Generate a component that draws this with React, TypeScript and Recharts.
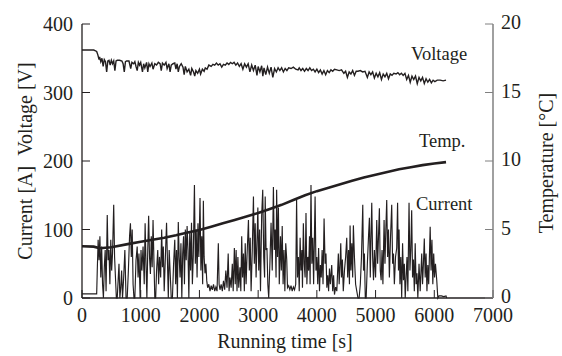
import React from 'react';
import { LineChart, Line, XAxis, YAxis } from 'recharts';

const xTicks = [0, 1000, 2000, 3000, 4000, 5000, 6000, 7000];
const leftTicks = [0, 100, 200, 300, 400];
const rightTicks = [0, 5, 10, 15, 20];

const currentPts: [number, number][] = [
  [0, 6], [250, 6], [260, 40], [275, 85], [290, 55], [305, 90], [320, 30], [335, 75], [350, 20], [365, 0], [380, 45], [395, 70], [410, 10], [430, 121], [445, 55], [460, 70], [475, 20], [490, 85], [505, 40], [520, 65], [540, 136], [555, 60], [570, 30], [585, 0], [600, 0], [615, 25], [630, 50], [645, 0], [660, 15], [675, 40], [690, 0], [710, 30], [730, 70], [750, 0], [770, 0], [790, 40], [810, 90], [825, 109], [840, 60], [855, 100], [870, 20], [885, 0], [900, 0], [920, 55], [940, 75], [955, 30], [970, 65], [990, 0], [1005, 70], [1020, 40], [1040, 75], [1060, 20], [1075, 109], [1090, 50], [1105, 0], [1120, 70], [1135, 120], [1150, 60], [1165, 35], [1180, 90], [1195, 45], [1210, 114], [1225, 55], [1240, 0], [1255, 0], [1270, 40], [1290, 70], [1305, 20], [1320, 60], [1340, 30], [1357, 100], [1370, 45], [1385, 75], [1400, 10], [1420, 60], [1440, 110], [1455, 55], [1470, 0], [1485, 70], [1500, 40], [1520, 0], [1540, 0], [1560, 50], [1580, 85], [1595, 20], [1610, 70], [1625, 0], [1640, 111], [1655, 60], [1670, 30], [1685, 80], [1700, 0], [1715, 65], [1730, 90], [1745, 20], [1760, 100], [1775, 55], [1790, 105], [1805, 70], [1820, 0], [1835, 95], [1850, 40], [1865, 110], [1880, 20], [1895, 60], [1915, 165], [1930, 50], [1945, 100], [1960, 30], [1975, 109], [1990, 60], [2010, 146], [2025, 40], [2040, 90], [2055, 20], [2067, 142], [2080, 60], [2095, 36], [2110, 50], [2125, 25], [2140, 15], [2160, 20], [2180, 10], [2200, 18], [2220, 12], [2240, 20], [2260, 10], [2280, 16], [2300, 10], [2322, 80], [2335, 20], [2350, 12], [2370, 20], [2390, 10], [2410, 25], [2430, 12], [2450, 40], [2470, 15], [2490, 65], [2505, 10], [2520, 30], [2540, 15], [2560, 50], [2575, 10], [2595, 73], [2610, 20], [2625, 70], [2640, 10], [2655, 60], [2670, 15], [2690, 45], [2705, 10], [2720, 90], [2735, 30], [2750, 65], [2765, 10], [2780, 80], [2795, 20], [2810, 60], [2835, 114], [2850, 40], [2865, 88], [2880, 10], [2900, 70], [2920, 148], [2935, 50], [2950, 109], [2965, 30], [2980, 80], [2995, 132], [3010, 40], [3025, 100], [3040, 10], [3060, 120], [3078, 158], [3095, 60], [3110, 30], [3120, 148], [3135, 70], [3150, 73], [3165, 20], [3180, 0], [3200, 50], [3220, 110], [3240, 40], [3260, 162], [3275, 70], [3290, 100], [3305, 30], [3315, 158], [3330, 60], [3345, 132], [3360, 20], [3380, 90], [3395, 40], [3410, 105], [3425, 20], [3440, 70], [3455, 10], [3470, 80], [3487, 56], [3500, 15], [3520, 18], [3540, 12], [3560, 18], [3580, 10], [3600, 16], [3620, 12], [3640, 20], [3655, 143], [3670, 30], [3685, 60], [3700, 10], [3715, 88], [3730, 40], [3745, 70], [3755, 15], [3770, 109], [3785, 50], [3800, 30], [3815, 124], [3830, 20], [3845, 60], [3860, 40], [3875, 90], [3885, 20], [3900, 165], [3915, 50], [3930, 88], [3945, 20], [3970, 148], [3985, 40], [4000, 60], [4015, 20], [4030, 73], [4045, 10], [4060, 48], [4075, 30], [4090, 70], [4105, 20], [4123, 116], [4140, 50], [4155, 65], [4170, 15], [4185, 33], [4200, 10], [4215, 43], [4230, 20], [4253, 48], [4270, 10], [4285, 33], [4300, 5], [4320, 16], [4340, 10], [4366, 65], [4380, 20], [4395, 50], [4407, 80], [4420, 30], [4435, 56], [4450, 10], [4470, 40], [4490, 60], [4509, 88], [4525, 30], [4540, 70], [4555, 20], [4566, 106], [4580, 40], [4595, 80], [4610, 30], [4622, 106], [4640, 60], [4660, 20], [4680, 10], [4700, 0], [4720, 0], [4740, 20], [4760, 60], [4782, 136], [4795, 40], [4810, 65], [4825, 0], [4840, 0], [4860, 50], [4880, 90], [4895, 117], [4910, 30], [4920, 80], [4935, 139], [4950, 60], [4965, 26], [4980, 70], [5000, 30], [5020, 114], [5035, 50], [5050, 90], [5065, 131], [5080, 40], [5095, 26], [5110, 70], [5125, 20], [5145, 114], [5160, 50], [5175, 100], [5190, 143], [5205, 60], [5220, 100], [5235, 30], [5255, 90], [5275, 136], [5290, 50], [5305, 65], [5320, 20], [5340, 60], [5360, 73], [5375, 139], [5390, 40], [5400, 100], [5415, 20], [5430, 60], [5445, 0], [5460, 80], [5475, 26], [5490, 50], [5505, 0], [5520, 30], [5535, 60], [5550, 10], [5570, 139], [5585, 40], [5600, 70], [5615, 128], [5630, 30], [5645, 56], [5660, 10], [5675, 80], [5690, 20], [5705, 36], [5720, 0], [5740, 50], [5760, 10], [5786, 65], [5800, 20], [5815, 50], [5830, 87], [5845, 30], [5860, 65], [5875, 10], [5890, 48], [5905, 20], [5930, 104], [5945, 40], [5960, 85], [5975, 20], [5990, 65], [6005, 30], [6020, 50], [6042, 26], [6060, 0], [6080, 3], [6120, 3], [6160, 2], [6200, 3], [6210, 0],
];

const voltagePts: [number, number][] = [
  [0, 362], [200, 362], [250, 360], [270, 355], [290, 348], [300, 352], [320, 345], [340, 350], [360, 338], [380, 348], [400, 345], [420, 330], [440, 346], [460, 347], [480, 340], [500, 347], [520, 342], [540, 346], [560, 332], [580, 346], [600, 347], [640, 347], [680, 346], [700, 342], [720, 330], [740, 345], [760, 346], [800, 346], [830, 335], [850, 344], [880, 342], [900, 345], [920, 338], [940, 332], [960, 344], [980, 340], [1000, 344], [1030, 330], [1050, 342], [1070, 336], [1100, 344], [1120, 330], [1140, 342], [1160, 338], [1190, 343], [1210, 334], [1240, 342], [1270, 340], [1300, 344], [1330, 342], [1350, 332], [1370, 343], [1400, 340], [1430, 344], [1450, 335], [1480, 342], [1500, 330], [1520, 340], [1550, 342], [1580, 343], [1600, 334], [1620, 342], [1640, 330], [1660, 338], [1690, 342], [1720, 337], [1740, 326], [1760, 338], [1790, 330], [1820, 334], [1850, 325], [1870, 335], [1900, 330], [1920, 324], [1940, 332], [1970, 328], [2000, 334], [2020, 327], [2050, 334], [2080, 331], [2100, 336], [2130, 334], [2160, 340], [2200, 338], [2230, 341], [2260, 340], [2290, 343], [2320, 340], [2350, 342], [2380, 337], [2410, 341], [2440, 340], [2470, 343], [2500, 341], [2530, 344], [2560, 342], [2590, 344], [2620, 340], [2650, 343], [2680, 338], [2710, 342], [2740, 334], [2770, 342], [2800, 337], [2830, 342], [2860, 330], [2890, 340], [2920, 332], [2950, 340], [2980, 325], [3000, 338], [3030, 330], [3060, 339], [3080, 324], [3100, 336], [3130, 326], [3160, 337], [3190, 328], [3220, 337], [3250, 322], [3280, 335], [3310, 330], [3340, 336], [3370, 332], [3400, 336], [3430, 330], [3460, 335], [3490, 332], [3520, 336], [3560, 335], [3600, 337], [3640, 334], [3680, 333], [3700, 336], [3730, 332], [3760, 335], [3790, 331], [3820, 335], [3850, 332], [3880, 336], [3910, 332], [3940, 334], [3970, 330], [4000, 334], [4030, 329], [4060, 333], [4090, 327], [4120, 332], [4150, 326], [4180, 332], [4210, 329], [4240, 333], [4270, 331], [4300, 334], [4340, 333], [4380, 332], [4420, 333], [4460, 328], [4490, 331], [4520, 322], [4550, 330], [4580, 327], [4610, 332], [4640, 325], [4670, 331], [4700, 331], [4740, 332], [4780, 330], [4820, 331], [4860, 322], [4890, 330], [4920, 326], [4950, 330], [4980, 321], [5010, 328], [5040, 323], [5070, 329], [5100, 319], [5130, 327], [5160, 323], [5190, 328], [5220, 320], [5250, 327], [5280, 325], [5310, 328], [5350, 327], [5380, 329], [5410, 326], [5440, 328], [5470, 325], [5500, 328], [5530, 319], [5560, 325], [5590, 315], [5620, 324], [5650, 319], [5680, 324], [5710, 313], [5740, 322], [5770, 317], [5800, 322], [5830, 313], [5860, 320], [5890, 315], [5920, 319], [5950, 314], [5980, 318], [6010, 316], [6050, 318], [6100, 318], [6150, 317], [6200, 318],
];

const tempPts: [number, number][] = [
  [0, 3.78], [200, 3.75], [300, 3.63], [500, 3.7], [800, 3.95], [1000, 4.1], [1200, 4.25], [1400, 4.4], [1600, 4.58], [1800, 4.78], [2000, 4.96], [2200, 5.2], [2400, 5.45], [2600, 5.7], [2800, 5.95], [3000, 6.2], [3200, 6.5], [3400, 6.8], [3600, 7.15], [3800, 7.5], [4000, 7.8], [4200, 8.05], [4400, 8.3], [4600, 8.55], [4800, 8.8], [5000, 9.0], [5200, 9.2], [5400, 9.4], [5600, 9.55], [5800, 9.7], [6000, 9.82], [6200, 9.92],
];

const toRows = (pts: [number, number][]) => pts.map(([t, v]) => ({ t, v }));
const currentData = toRows(currentPts);
const voltageData = toRows(voltagePts);
const tempData = toRows(tempPts);

const INK = '#231f20';
const FONT = '"Liberation Serif", "Times New Roman", serif';
const tickStyle = { fontSize: 20, fontFamily: FONT, fill: INK };

export default function App() {
  return (
    <div style={{ position: 'absolute', left: 0, top: 0, width: 562, height: 356, background: '#fff' }}>
      <LineChart width={562} height={356} margin={{ top: 24, right: 0, bottom: 0, left: 0 }}>
        <XAxis
          xAxisId="b"
          dataKey="t"
          type="number"
          domain={[0, 7000]}
          ticks={xTicks}
          interval={0}
          allowDataOverflow
          height={58}
          tickSize={-8}
          tickMargin={18}
          stroke={INK}
          axisLine={{ stroke: INK, strokeWidth: 1.3 }}
          tickLine={{ stroke: INK }}
          tick={tickStyle}
          label={{
            content: () => (
              <text x={285} y={348} textAnchor="middle" fontSize={20} fontFamily={FONT} fill={INK}>
                Running time [s]
              </text>
            ),
          }}
        />
        <XAxis
          xAxisId="t"
          orientation="top"
          dataKey="t"
          type="number"
          domain={[0, 7000]}
          ticks={xTicks}
          interval={0}
          height={0}
          tickSize={-8}
          tickFormatter={() => ''}
          axisLine={{ stroke: INK, strokeWidth: 1.3 }}
          tickLine={{ stroke: INK }}
        />
        <YAxis
          yAxisId="l"
          type="number"
          domain={[0, 400]}
          ticks={leftTicks}
          interval={0}
          width={82}
          tickSize={-8}
          tickMargin={17}
          axisLine={{ stroke: INK, strokeWidth: 1.3 }}
          tickLine={{ stroke: INK }}
          tick={tickStyle}
          label={{
            content: () => (
              <text
                x={25}
                y={161}
                transform="rotate(-90 25 161)"
                textAnchor="middle"
                dominantBaseline="central"
                fontSize={20}
                fontFamily={FONT}
                fill={INK}
              >
                {'Current [A]\u00a0\u00a0Voltage [V]'}
              </text>
            ),
          }}
        />
        <YAxis
          yAxisId="r"
          orientation="right"
          type="number"
          domain={[0, 20]}
          ticks={rightTicks}
          interval={0}
          width={69}
          tickSize={-8}
          tickMargin={16}
          axisLine={{ stroke: '#808080', strokeWidth: 1.5 }}
          tickLine={{ stroke: '#808080' }}
          tick={{ ...tickStyle, dy: -2 }}
          label={{
            content: () => (
              <text
                x={546}
                y={163}
                transform="rotate(-90 546 163)"
                textAnchor="middle"
                dominantBaseline="central"
                fontSize={20}
                fontFamily={FONT}
                fill={INK}
              >
                Temperature [°C]
              </text>
            ),
          }}
        />
        <Line
          xAxisId="b"
          yAxisId="l"
          data={currentData}
          dataKey="v"
          type="linear"
          dot={false}
          stroke={INK}
          strokeWidth={1.15}
          isAnimationActive={false}
        />
        <Line
          xAxisId="b"
          yAxisId="l"
          data={voltageData}
          dataKey="v"
          type="linear"
          dot={false}
          stroke={INK}
          strokeWidth={1.4}
          isAnimationActive={false}
        />
        <Line
          xAxisId="b"
          yAxisId="r"
          data={tempData}
          dataKey="v"
          type="linear"
          dot={false}
          stroke={INK}
          strokeWidth={2.6}
          isAnimationActive={false}
        />
        <text x={411} y={60} fontSize={18.5} fontFamily={FONT} fill={INK}>Voltage</text>
        <text x={419} y={147} fontSize={18.5} fontFamily={FONT} fill={INK}>Temp.</text>
        <text x={416} y={210} fontSize={18.5} fontFamily={FONT} fill={INK}>Current</text>
      </LineChart>
    </div>
  );
}
